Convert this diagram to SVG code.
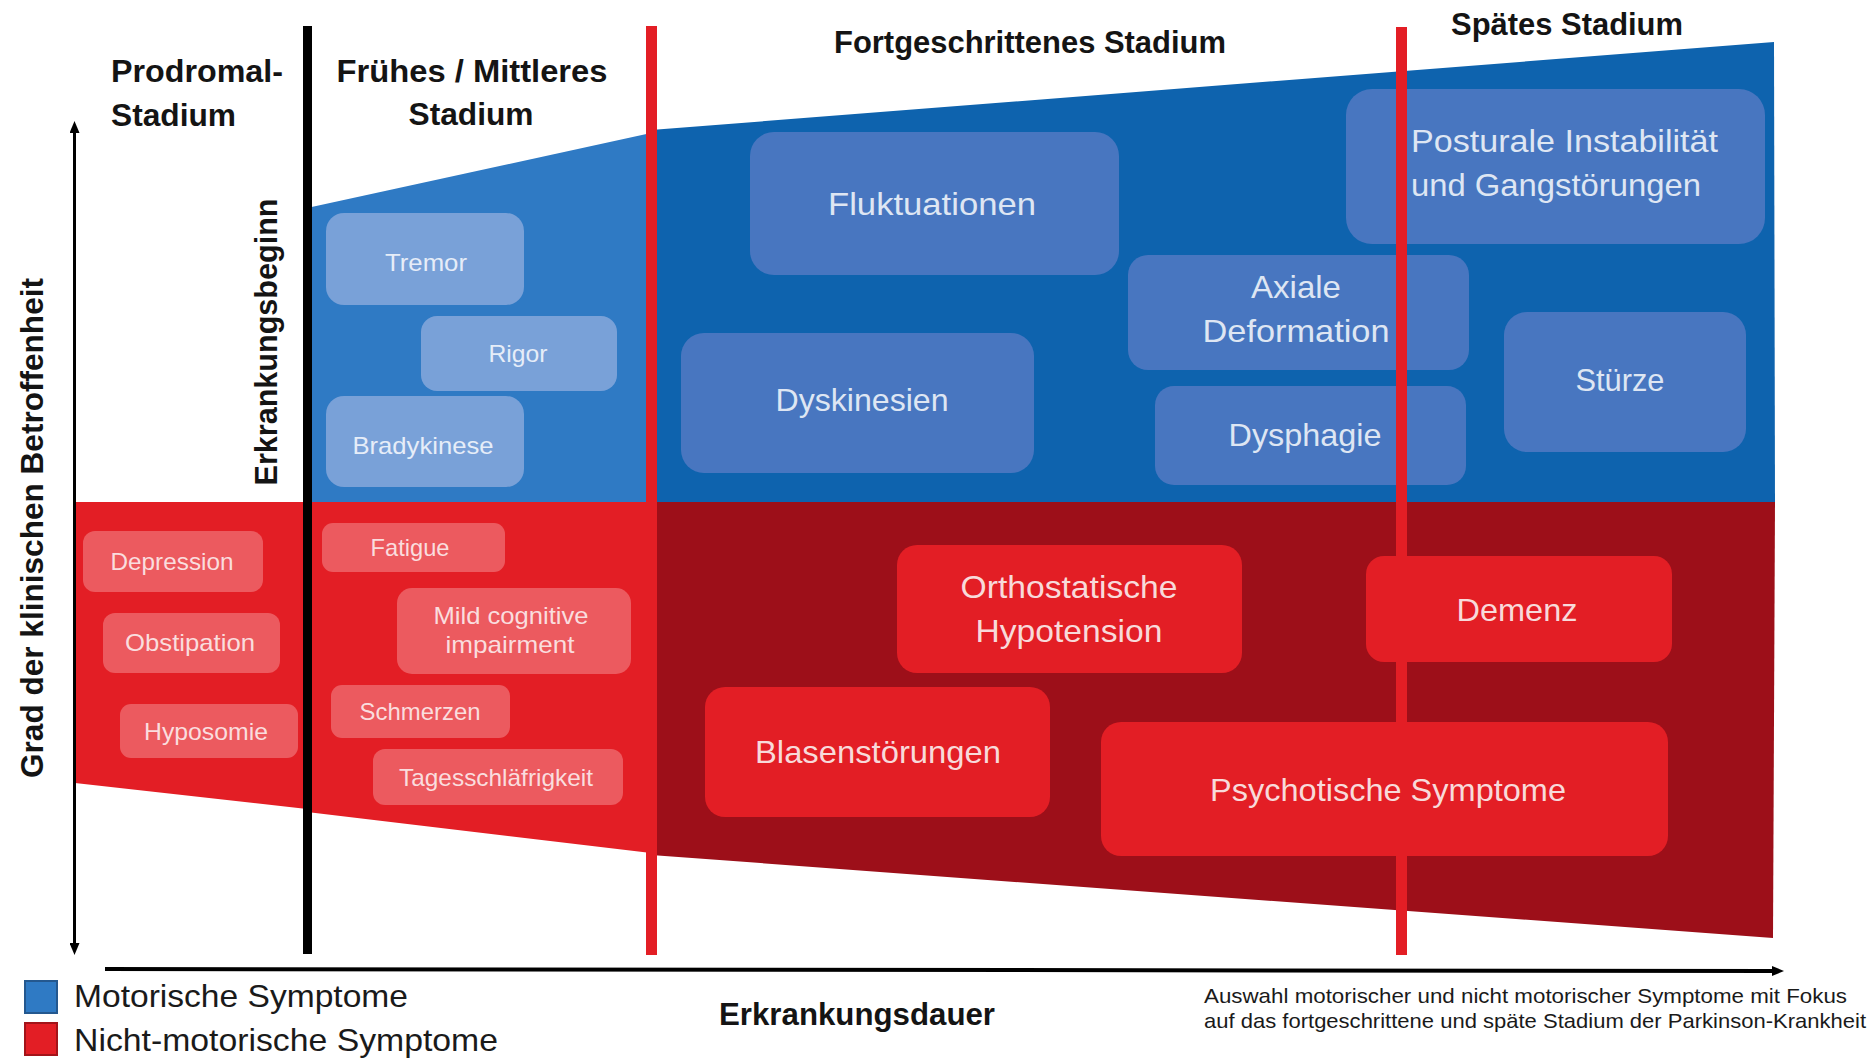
<svg xmlns="http://www.w3.org/2000/svg" width="1876" height="1060" viewBox="0 0 1876 1060">
<defs>
<style>
text{font-family:"Liberation Sans",Arial,sans-serif}
.hdr{font-weight:bold;font-size:31px;fill:#141414}
.big{font-size:32px}
.sm{font-size:24px}
.leg{font-size:32px;fill:#1a1a1a}
.note{font-size:21px;fill:#1a1a1a}
.c{text-anchor:middle}
.eb rect{fill:#79A1D8}
.eb text{fill:#E6EDF8}
.lb rect{fill:#4876C0}
.lb text{fill:#DEE6F3}
.er rect{fill:#EC5A5F}
.er text{fill:#FADDDE}
.lr rect{fill:#E31E25}
.lr text{fill:#F8DADA}
</style>
<marker id="ah" viewBox="0 0 12 10" markerWidth="12" markerHeight="10" refX="4" refY="5" orient="auto-start-reverse" markerUnits="userSpaceOnUse">
<path d="M0,0 L12,5 L0,10 Z" fill="#000"/>
</marker>
</defs>
<rect x="0" y="0" width="1876" height="1060" fill="#fff"/>

<g id="regions">
<path d="M307,208 L651,133 L651,502 L307,502 Z" fill="#2F7AC4"/>
<path d="M651,130 L1774,42 L1775,502 L651,502 Z" fill="#0E63AE"/>
<path d="M75,502 L307,502 L307,809 L75,783 Z" fill="#E31E25"/>
<path d="M307,502 L651,502 L651,853 L307,812 Z" fill="#E31E25"/>
<path d="M651,502 L1775,502 L1773,938 L651,855 Z" fill="#9D0F19"/>
</g>

<g id="stage-titles">
<text class="hdr" x="111" y="82" textLength="172" lengthAdjust="spacingAndGlyphs">Prodromal-</text>
<text class="hdr" x="111" y="126" textLength="125" lengthAdjust="spacingAndGlyphs">Stadium</text>
<text class="hdr c" x="472" y="82" textLength="271" lengthAdjust="spacingAndGlyphs">Frühes / Mittleres</text>
<text class="hdr c" x="471" y="125" textLength="125" lengthAdjust="spacingAndGlyphs">Stadium</text>
<text class="hdr c" x="1030" y="53" textLength="392" lengthAdjust="spacingAndGlyphs">Fortgeschrittenes Stadium</text>
<text class="hdr c" x="1567" y="35" textLength="232" lengthAdjust="spacingAndGlyphs">Spätes Stadium</text>
</g>

<g id="n-tremor" class="eb"><rect x="326" y="213" width="198" height="92" rx="18"/><text class="sm c" x="426" y="271" textLength="82" lengthAdjust="spacingAndGlyphs">Tremor</text></g>
<g id="n-rigor" class="eb"><rect x="421" y="316" width="196" height="75" rx="16"/><text class="sm c" x="518" y="362" textLength="59" lengthAdjust="spacingAndGlyphs">Rigor</text></g>
<g id="n-bradykinese" class="eb"><rect x="326" y="396" width="198" height="91" rx="18"/><text class="sm c" x="423" y="454" textLength="141" lengthAdjust="spacingAndGlyphs">Bradykinese</text></g>

<g id="n-fluktuationen" class="lb"><rect x="750" y="132" width="369" height="143" rx="24"/><text class="big c" x="932" y="215" textLength="208" lengthAdjust="spacingAndGlyphs">Fluktuationen</text></g>
<g id="n-posturale" class="lb"><rect x="1346" y="89" width="419" height="155" rx="26"/><text class="big" x="1411" y="152" textLength="307" lengthAdjust="spacingAndGlyphs">Posturale Instabilität</text><text class="big" x="1411" y="196" textLength="290" lengthAdjust="spacingAndGlyphs">und Gangstörungen</text></g>
<g id="n-axiale" class="lb"><rect x="1128" y="255" width="341" height="115" rx="20"/><text class="big c" x="1296" y="298" textLength="90" lengthAdjust="spacingAndGlyphs">Axiale</text><text class="big c" x="1296" y="342" textLength="187" lengthAdjust="spacingAndGlyphs">Deformation</text></g>
<g id="n-dyskinesien" class="lb"><rect x="681" y="333" width="353" height="140" rx="23"/><text class="big c" x="862" y="411" textLength="173" lengthAdjust="spacingAndGlyphs">Dyskinesien</text></g>
<g id="n-dysphagie" class="lb"><rect x="1155" y="386" width="311" height="99" rx="19"/><text class="big c" x="1305" y="446" textLength="153" lengthAdjust="spacingAndGlyphs">Dysphagie</text></g>
<g id="n-stuerze" class="lb"><rect x="1504" y="312" width="242" height="140" rx="23"/><text class="big c" x="1620" y="391" textLength="89" lengthAdjust="spacingAndGlyphs">Stürze</text></g>

<g id="dividers">
<line x1="307.5" y1="26" x2="307.5" y2="954" stroke="#000" stroke-width="9"/>
<line x1="651.5" y1="26" x2="651.5" y2="955" stroke="#E31E25" stroke-width="11"/>
<line x1="1401.5" y1="27" x2="1401.5" y2="955" stroke="#E31E25" stroke-width="11"/>
</g>

<g id="n-depression" class="er"><rect x="83" y="531" width="180" height="61" rx="12"/><text class="sm c" x="172" y="570" textLength="123" lengthAdjust="spacingAndGlyphs">Depression</text></g>
<g id="n-obstipation" class="er"><rect x="103" y="613" width="177" height="60" rx="12"/><text class="sm c" x="190" y="651" textLength="130" lengthAdjust="spacingAndGlyphs">Obstipation</text></g>
<g id="n-hyposomie" class="er"><rect x="120" y="704" width="178" height="54" rx="11"/><text class="sm c" x="206" y="740" textLength="124" lengthAdjust="spacingAndGlyphs">Hyposomie</text></g>
<g id="n-fatigue" class="er"><rect x="322" y="523" width="183" height="49" rx="11"/><text class="sm c" x="410" y="556" textLength="79" lengthAdjust="spacingAndGlyphs">Fatigue</text></g>
<g id="n-mci" class="er"><rect x="397" y="588" width="234" height="86" rx="15"/><text class="sm c" x="511" y="624" textLength="155" lengthAdjust="spacingAndGlyphs">Mild cognitive</text><text class="sm c" x="510" y="653" textLength="129" lengthAdjust="spacingAndGlyphs">impairment</text></g>
<g id="n-schmerzen" class="er"><rect x="331" y="685" width="179" height="53" rx="11"/><text class="sm c" x="420" y="720" textLength="121" lengthAdjust="spacingAndGlyphs">Schmerzen</text></g>
<g id="n-tagesschlaefrigkeit" class="er"><rect x="373" y="749" width="250" height="56" rx="12"/><text class="sm c" x="496" y="786" textLength="194" lengthAdjust="spacingAndGlyphs">Tagesschläfrigkeit</text></g>

<g id="n-orthostatische" class="lr"><rect x="897" y="545" width="345" height="128" rx="20"/><text class="big c" x="1069" y="598" textLength="217" lengthAdjust="spacingAndGlyphs">Orthostatische</text><text class="big c" x="1069" y="642" textLength="187" lengthAdjust="spacingAndGlyphs">Hypotension</text></g>
<g id="n-demenz" class="lr"><rect x="1366" y="556" width="306" height="106" rx="18"/><text class="big c" x="1517" y="621" textLength="121" lengthAdjust="spacingAndGlyphs">Demenz</text></g>
<g id="n-blasen" class="lr"><rect x="705" y="687" width="345" height="130" rx="20"/><text class="big c" x="878" y="763" textLength="246" lengthAdjust="spacingAndGlyphs">Blasenstörungen</text></g>
<g id="n-psychotische" class="lr"><rect x="1101" y="722" width="567" height="134" rx="20"/><text class="big c" x="1388" y="801" textLength="356" lengthAdjust="spacingAndGlyphs">Psychotische Symptome</text></g>

<g id="connectors">
<line x1="74.5" y1="129" x2="74.5" y2="947" stroke="#000" stroke-width="3" marker-start="url(#ah)" marker-end="url(#ah)"/>
<line x1="105" y1="969" x2="1776" y2="971" stroke="#000" stroke-width="4" marker-end="url(#ah)"/>
</g>

<g id="axis-labels">
<text class="hdr c" transform="translate(43,528) rotate(-90)" textLength="500" lengthAdjust="spacingAndGlyphs">Grad der klinischen Betroffenheit</text>
<text class="hdr c" transform="translate(277,342) rotate(-90)" textLength="287" lengthAdjust="spacingAndGlyphs">Erkrankungsbeginn</text>
<text class="hdr c" x="857" y="1025" textLength="276" lengthAdjust="spacingAndGlyphs">Erkrankungsdauer</text>
</g>

<g id="legend">
<rect x="25" y="981" width="32" height="32" fill="#2F7AC4" stroke="#24588F" stroke-width="2"/>
<rect x="25" y="1023" width="32" height="32" fill="#E31E25" stroke="#A3141A" stroke-width="2"/>
<text class="leg" x="74" y="1007" textLength="334" lengthAdjust="spacingAndGlyphs">Motorische Symptome</text>
<text class="leg" x="74" y="1051" textLength="424" lengthAdjust="spacingAndGlyphs">Nicht-motorische Symptome</text>
</g>

<g id="footnote">
<text class="note" x="1204" y="1003" textLength="643" lengthAdjust="spacingAndGlyphs">Auswahl motorischer und nicht motorischer Symptome  mit Fokus</text>
<text class="note" x="1204" y="1028" textLength="662" lengthAdjust="spacingAndGlyphs">auf das fortgeschrittene und späte Stadium der Parkinson-Krankheit</text>
</g>
</svg>
